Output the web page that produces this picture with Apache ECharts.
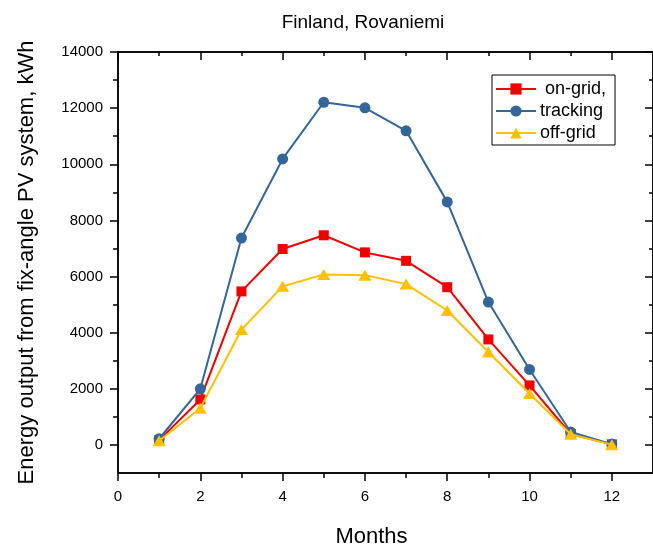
<!DOCTYPE html>
<html>
<head>
<meta charset="utf-8">
<script src="https://cdn.jsdelivr.net/npm/echarts@6/dist/echarts.min.js"></script>
<style>html,body{margin:0;padding:0;background:#fff}#c{width:653px;height:553px}</style>
</head>
<body>
<div id="c"></div>
<script>
var months = [1,2,3,4,5,6,7,8,9,10,11,12];
var onGrid = [170,1620,5470,6980,7470,6860,6560,5620,3760,2120,390,20];
var tracking = [220,2000,7370,10190,12210,12010,11190,8660,5090,2690,460,30];
var offGrid = [150,1310,4110,5650,6070,6050,5730,4790,3310,1830,380,10];
var xMajor = [0,2,4,6,8,10,12];
var xMinor = [1,3,5,7,9,11];
var yMajor = [0,2000,4000,6000,8000,10000,12000,14000];
var yMinor = [1000,3000,5000,7000,9000,11000,13000];
var seriesNames = ['on-grid,','tracking','off-grid'];

function pairs(v){ return months.map(function(m,i){ return [m, v[i]]; }); }
var FONT = 'Liberation Sans, Arial, sans-serif';
var black = '#000';
function plain(v){ return String(v); }
function xAx(pos, ticks, len, inside, labels, extra){
  var a = {type:'value', position:pos, min:0, max:13, gridIndex:0,
    axisLine:{show:true, onZero:false, lineStyle:{color:black, width:1.5}},
    axisTick:{show:true, inside:inside, length:len, customValues:ticks, lineStyle:{color:black,width:1.5}},
    axisLabel:{show:labels, customValues:ticks, margin:16, formatter:plain, fontFamily:FONT, fontSize:15, color:black},
    splitLine:{show:false}};
  return Object.assign(a, extra||{});
}
function yAx(pos, ticks, len, inside, labels, extra){
  var a = {type:'value', position:pos, min:-1000, max:14000, gridIndex:0,
    axisLine:{show:true, onZero:false, lineStyle:{color:black, width:1.5}},
    axisTick:{show:true, inside:inside, length:len, customValues:ticks, lineStyle:{color:black,width:1.5}},
    axisLabel:{show:labels, customValues:ticks, margin:15, formatter:plain, fontFamily:FONT, fontSize:15, color:black},
    splitLine:{show:false}};
  return Object.assign(a, extra||{});
}
var chart = echarts.init(document.getElementById('c'), null, {renderer:'canvas'});
chart.setOption({
  animation:false,
  backgroundColor:'#fff',
  title:{text:'Finland, Rovaniemi', left:358, textAlign:'center', top:8,
    textStyle:{fontFamily:FONT, fontSize:19, fontWeight:'normal', color:black}},
  grid:{left:118, top:52, width:537, height:431, containLabel:false},
  legend:{orient:'vertical', left:492, top:75, padding:[5,9,3,3], itemGap:4, itemWidth:40, itemHeight:14,
    borderColor:black, borderWidth:1, backgroundColor:'#fff',
    formatter:function(n){ return n==='on-grid,' ? ' '+n : n; },
    textStyle:{fontFamily:FONT, fontSize:18, color:black, padding:[0,0,0,-1]},
    data:seriesNames},
  xAxis:[
    xAx('bottom', xMajor, 8, false, true, {name:'Months', nameLocation:'middle', nameGap:53,
      nameTextStyle:{fontFamily:FONT, fontSize:22, color:black, padding:[0,28,0,0]}}),
    xAx('bottom', xMinor, 5, false, false),
    xAx('top', xMajor, 8, true, false),
    xAx('top', xMinor, 4, true, false)
  ],
  yAxis:[
    yAx('left', yMajor, 8, false, true, {name:'Energy output from fix-angle PV system, kWh', nameLocation:'middle', nameGap:80,
      nameTextStyle:{fontFamily:FONT, fontSize:22, color:black}}),
    yAx('left', yMinor, 5, false, false),
    yAx('right', yMajor, 8, true, false),
    yAx('right', yMinor, 4, true, false)
  ],
  series:[
    {name:seriesNames[0], type:'line', data:pairs(onGrid), symbol:'rect', symbolSize:10,
      itemStyle:{color:'#f00000'}, lineStyle:{color:'#f00000', width:2}, z:2},
    {name:seriesNames[1], type:'line', data:pairs(tracking), symbol:'circle', symbolSize:11,
      itemStyle:{color:'#336699'}, lineStyle:{color:'#336699', width:2}, z:3},
    {name:seriesNames[2], type:'line', data:pairs(offGrid), symbol:'triangle', symbolSize:[13,11],
      itemStyle:{color:'#ffc000'}, lineStyle:{color:'#ffc000', width:2}, z:4}
  ]
});
</script>
</body>
</html>
